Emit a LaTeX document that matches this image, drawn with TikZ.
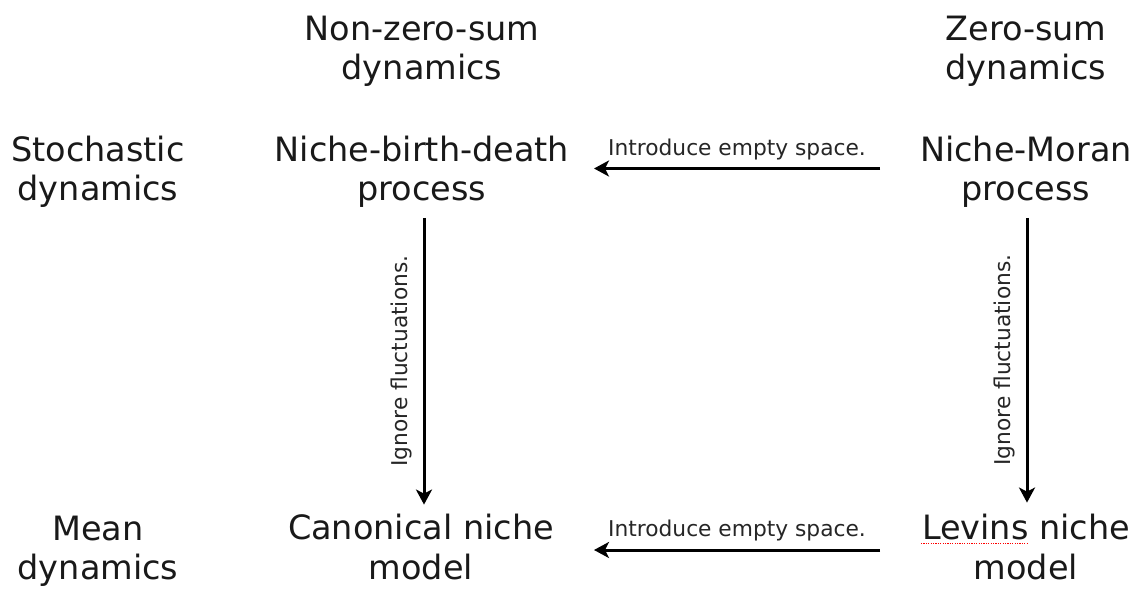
\documentclass[tikz,border=0pt]{standalone}
\usepackage{fontspec}
\setmainfont{DejaVu Sans}
\usetikzlibrary{arrows.meta,calc}
\tikzset{
  lbl/.style={align=center, inner sep=0pt, font=\fontsize{33.5}{39.5}\selectfont, text=black!90},
  note/.style={inner sep=0pt, font=\fontsize{21.75}{26}\selectfont, text=black!85},
  arr/.style={line width=3pt, -{Stealth[length=15pt,width=16pt,inset=4pt]}}
}
\begin{document}
\begin{tikzpicture}[x=1pt,y=-1pt]
\useasboundingbox[fill=white] (0,0) rectangle (1140,594);
% column headers
\node[lbl] (hnz) at (422,51.5) {Non-zero-sum\\dynamics};
\node[lbl] (hz)  at (1026,51.5) {Zero-sum\\dynamics};
% row headers
\node[lbl] (hst) at (98,172) {Stochastic\\dynamics};
\node[lbl] (hmd) at (98,551.5) {Mean\\dynamics};
% cells
\node[lbl] (nbd) at (422,172) {Niche-birth-death\\process};
\node[lbl] (nmp) at (1026,172) {Niche-Moran\\process};
\node[lbl] (cnm) at (421,547) {Canonical niche\\model};
\node[lbl] (lnm) at (1026,547) {Levins niche\\model};
% spell-check underline
\draw[red, line width=1.2pt, dash pattern=on 1.2pt off 1.2pt] (921,543.5) -- (1028,543.5);
% horizontal arrows
\draw[arr] ($(nmp.west -| 880,0)+(0,-3.5)$) -- node[note, above=7pt] {Introduce empty space.} ($(nbd.east -| 594,0)+(0,-3.5)$);
\draw[arr] ($(lnm.west -| 880,0)+(0,3)$) -- node[note, above=7pt] {Introduce empty space.} ($(cnm.east -| 594,0)+(0,3)$);
% vertical arrows
\draw[arr] ($(nbd.south -| 424,0)+(0,9.6)$) -- node[note, rotate=90, above=10pt, anchor=south] {Ignore fluctuations.} ($(cnm.north -| 424,0)+(0,-9.5)$);
\draw[arr] ($(nmp.south -| 1027,0)+(0,9.6)$) -- node[note, rotate=90, above=10pt, anchor=south] {Ignore fluctuations.} ($(lnm.north -| 1027,0)+(0,-11.5)$);
\end{tikzpicture}
\end{document}
